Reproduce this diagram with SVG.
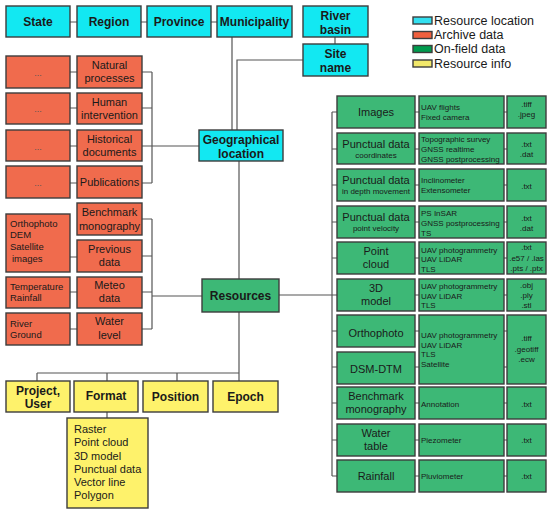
<svg xmlns="http://www.w3.org/2000/svg" width="550" height="515" viewBox="0 0 550 515">
<style>
text{font-family:"Liberation Sans",Arial,sans-serif;fill:#1a1a1a}
.box{stroke:#3c3c3c;stroke-width:1.4}
.loc{fill:#12e8f2}
.arc{fill:#f06b4d}
.fld{fill:#3db876}
.inf{fill:#fef26b}
.b12{font-size:12px;font-weight:bold;text-anchor:middle}
.r11{font-size:11px;text-anchor:middle}
.l11{font-size:11px}
.s8{font-size:8px}
.s8m{font-size:8px;text-anchor:middle}
.l9{font-size:9.5px}
.dots{font-size:9px;text-anchor:middle;fill:#555}
.leg{font-size:12.5px}
.con{fill:none;stroke:#555;stroke-width:1.2}
</style>
<rect width="550" height="515" fill="#fff"/>

<g id="connectors" class="con">
<!-- top row -->
<path d="M70 22H77M141 22H147M211 22H217M335 37V44"/>
<!-- to geographical location -->
<path d="M232 37V130M237 130V60H303"/>
<path d="M70 72H77M70 108H77M70 146H77M70 183H77"/>
<path d="M142 72H152M142 108H152M142 146H199M142 183H152M152 72V183"/>
<!-- geo to resources -->
<path d="M239 161V279"/>
<!-- lower archive -->
<path d="M70 257H77M70 292H77M70 329H77"/>
<path d="M142 219H152M142 256H152M142 292H152M142 329H152M152 219V329M152 296H202"/>
<!-- resources to green trunk -->
<path d="M279 295H332M332 112V476"/>
<path d="M332 112H337M332 149H337M332 185H337M332 222H337M332 258H337M332 295H337M332 331H337M332 367H337M332 403H337M332 440H337M332 476H337"/>
<path d="M415 112H419M415 149H419M415 185H419M415 222H419M415 258H419M415 295H419M415 331H419M415 367H419M415 403H419M415 440H419M415 476H419"/>
<path d="M504 112H507M504 149H507M504 185H507M504 222H507M504 258H507M504 295H507M504 331H507M504 367H507M504 403H507M504 440H507M504 476H507"/>
<!-- resources to info -->
<path d="M239 312V381M37 373H239M37 373V381M107 373V381M177 373V381M107 412V418"/>
</g>

<!-- Resource location -->
<g id="state"><rect class="box loc" x="6" y="6" width="64" height="31"/><text class="b12" x="38" y="26">State</text></g>
<g id="region"><rect class="box loc" x="77" y="6" width="64" height="31"/><text class="b12" x="109" y="26">Region</text></g>
<g id="province"><rect class="box loc" x="147" y="6" width="64" height="31"/><text class="b12" x="179" y="26">Province</text></g>
<g id="municipality"><rect class="box loc" x="217" y="6" width="75" height="31"/><text class="b12" x="254.5" y="26">Municipality</text></g>
<g id="river-basin"><rect class="box loc" x="303" y="6" width="65" height="31"/><text class="b12" x="335.5" y="19.5">River</text><text class="b12" x="335.5" y="33.5">basin</text></g>
<g id="site-name"><rect class="box loc" x="303" y="44" width="65" height="32"/><text class="b12" x="335.5" y="57.5">Site</text><text class="b12" x="335.5" y="72">name</text></g>
<g id="geographical-location"><rect class="box loc" x="199" y="130" width="84" height="31"/><text class="b12" x="241" y="143.5">Geographical</text><text class="b12" x="241" y="157.5">location</text></g>

<!-- Legend -->
<g id="legend">
<rect class="box" x="413" y="17" width="19" height="7" fill="#33e0f0" stroke-width="1"/>
<rect class="box" x="413" y="31.5" width="19" height="7" fill="#f0603e" stroke-width="1"/>
<rect class="box" x="413" y="45.5" width="19" height="7" fill="#009b4e" stroke-width="1"/>
<rect class="box" x="413" y="60" width="19" height="7" fill="#f2e86a" stroke-width="1"/>
<text class="leg" x="434" y="25">Resource location</text>
<text class="leg" x="434" y="39">Archive data</text>
<text class="leg" x="434" y="53">On-field data</text>
<text class="leg" x="434" y="67.5">Resource info</text>
</g>

<!-- Archive data -->
<g id="arc-dots-1"><rect class="box arc" x="6" y="56" width="64" height="32"/><text class="dots" x="38" y="76">...</text></g>
<g id="natural-processes"><rect class="box arc" x="77" y="56" width="65" height="32"/><text class="r11" x="109.5" y="69">Natural</text><text class="r11" x="109.5" y="82">processes</text></g>
<g id="arc-dots-2"><rect class="box arc" x="6" y="93" width="64" height="31"/><text class="dots" x="38" y="112">...</text></g>
<g id="human-intervention"><rect class="box arc" x="77" y="93" width="65" height="31"/><text class="r11" x="109.5" y="105.5">Human</text><text class="r11" x="109.5" y="118.5">intervention</text></g>
<g id="arc-dots-3"><rect class="box arc" x="6" y="130" width="64" height="31"/><text class="dots" x="38" y="150">...</text></g>
<g id="historical-documents"><rect class="box arc" x="77" y="130" width="65" height="31"/><text class="r11" x="109.5" y="143">Historical</text><text class="r11" x="109.5" y="156">documents</text></g>
<g id="arc-dots-4"><rect class="box arc" x="6" y="166" width="64" height="32"/><text class="dots" x="38" y="186">...</text></g>
<g id="publications"><rect class="box arc" x="77" y="166" width="65" height="32"/><text class="r11" x="109.5" y="186">Publications</text></g>
<g id="benchmark-monography-archive"><rect class="box arc" x="77" y="203" width="65" height="32"/><text class="r11" x="109.5" y="216">Benchmark</text><text class="r11" x="109.5" y="229.5">monography</text></g>
<g id="orthophoto-dem"><rect class="box arc" x="6" y="214" width="64" height="58"/><text class="l9" x="10" y="226.5">Orthophoto</text><text class="l9" x="10" y="238">DEM</text><text class="l9" x="10" y="250">Satellite</text><text class="l9" x="12" y="261.5">images</text></g>
<g id="previous-data"><rect class="box arc" x="77" y="240" width="65" height="32"/><text class="r11" x="109.5" y="253">Previous</text><text class="r11" x="109.5" y="266">data</text></g>
<g id="temperature-rainfall"><rect class="box arc" x="6" y="277" width="64" height="31"/><text class="l9" x="10" y="289.5">Temperature</text><text class="l9" x="10" y="300.5">Rainfall</text></g>
<g id="meteo-data"><rect class="box arc" x="77" y="277" width="65" height="31"/><text class="r11" x="109.5" y="288.5">Meteo</text><text class="r11" x="109.5" y="301.5">data</text></g>
<g id="river-ground"><rect class="box arc" x="6" y="313" width="64" height="32"/><text class="l9" x="10" y="326.5">River</text><text class="l9" x="10" y="338">Ground</text></g>
<g id="water-level"><rect class="box arc" x="77" y="313" width="65" height="32"/><text class="r11" x="109.5" y="325">Water</text><text class="r11" x="109.5" y="338.5">level</text></g>

<!-- Resources -->
<g id="resources"><rect class="box fld" x="202" y="279" width="77" height="33"/><text class="b12" x="240.5" y="300">Resources</text></g>

<!-- On-field data -->
<g id="images">
<rect class="box fld" x="337" y="96" width="78" height="32"/><text class="r11" x="376" y="116">Images</text>
<rect class="box fld" x="419" y="96" width="85" height="32"/><text class="s8" x="421" y="110">UAV flights</text><text class="s8" x="421" y="120">Fixed camera</text>
<rect class="box fld" x="507" y="96" width="39" height="32"/><text class="s8m" x="526.5" y="107">.tiff</text><text class="s8m" x="526.5" y="117">.jpeg</text>
</g>
<g id="punctual-coordinates">
<rect class="box fld" x="337" y="133" width="78" height="31"/><text class="r11" x="376" y="148">Punctual data</text><text class="s8m" x="376" y="158">coordinates</text>
<rect class="box fld" x="419" y="133" width="85" height="31"/><text class="s8" x="421" y="142">Topographic survey</text><text class="s8" x="421" y="152">GNSS realtime</text><text class="s8" x="421" y="162">GNSS postprocessing</text>
<rect class="box fld" x="507" y="133" width="39" height="31"/><text class="s8m" x="526.5" y="147">.txt</text><text class="s8m" x="526.5" y="157">.dat</text>
</g>
<g id="punctual-depth">
<rect class="box fld" x="337" y="169" width="78" height="32"/><text class="r11" x="376" y="184">Punctual data</text><text class="s8m" x="376" y="194">in depth movement</text>
<rect class="box fld" x="419" y="169" width="85" height="32"/><text class="s8" x="421" y="183">Inclinometer</text><text class="s8" x="421" y="192.5">Extensometer</text>
<rect class="box fld" x="507" y="169" width="39" height="32"/><text class="s8m" x="526.5" y="189">.txt</text>
</g>
<g id="punctual-velocity">
<rect class="box fld" x="337" y="206" width="78" height="32"/><text class="r11" x="376" y="221">Punctual data</text><text class="s8m" x="376" y="231">point velocity</text>
<rect class="box fld" x="419" y="206" width="85" height="32"/><text class="s8" x="421" y="216">PS InSAR</text><text class="s8" x="421" y="226">GNSS postprocessing</text><text class="s8" x="421" y="235.5">TS</text>
<rect class="box fld" x="507" y="206" width="39" height="32"/><text class="s8m" x="526.5" y="221">.txt</text><text class="s8m" x="526.5" y="231">.dat</text>
</g>
<g id="point-cloud">
<rect class="box fld" x="337" y="242" width="78" height="32"/><text class="r11" x="376" y="255">Point</text><text class="r11" x="376" y="268">cloud</text>
<rect class="box fld" x="419" y="242" width="85" height="32"/><text class="s8" x="421" y="253">UAV photogrammetry</text><text class="s8" x="421" y="262">UAV LiDAR</text><text class="s8" x="421" y="272">TLS</text>
<rect class="box fld" x="507" y="242" width="39" height="32"/><text class="s8m" x="526.5" y="250">.txt</text><text class="s8m" x="526.5" y="261">.e57 / .las</text><text class="s8m" x="526.5" y="271">.pts / .ptx</text>
</g>
<g id="model-3d">
<rect class="box fld" x="337" y="279" width="78" height="32"/><text class="r11" x="376" y="292">3D</text><text class="r11" x="376" y="305">model</text>
<rect class="box fld" x="419" y="279" width="85" height="32"/><text class="s8" x="421" y="289">UAV photogrammetry</text><text class="s8" x="421" y="299">UAV LiDAR</text><text class="s8" x="421" y="308">TLS</text>
<rect class="box fld" x="507" y="279" width="39" height="32"/><text class="s8m" x="526.5" y="288">.obj</text><text class="s8m" x="526.5" y="298">.ply</text><text class="s8m" x="526.5" y="308">.stl</text>
</g>
<g id="orthophoto"><rect class="box fld" x="337" y="315" width="78" height="32"/><text class="r11" x="376" y="337">Orthophoto</text></g>
<g id="dsm-dtm"><rect class="box fld" x="337" y="352" width="78" height="32"/><text class="r11" x="376" y="373">DSM-DTM</text></g>
<g id="ortho-dsm-sources">
<rect class="box fld" x="419" y="315" width="85" height="69"/><text class="s8" x="421" y="338">UAV photogrammetry</text><text class="s8" x="421" y="347.5">UAV LiDAR</text><text class="s8" x="421" y="357">TLS</text><text class="s8" x="421" y="367">Satellite</text>
<rect class="box fld" x="507" y="315" width="39" height="69"/><text class="s8m" x="526.5" y="341">.tiff</text><text class="s8m" x="526.5" y="352">.geotiff</text><text class="s8m" x="526.5" y="362">.ecw</text>
</g>
<g id="benchmark-monography">
<rect class="box fld" x="337" y="387" width="78" height="32"/><text class="r11" x="376" y="400">Benchmark</text><text class="r11" x="376" y="413">monography</text>
<rect class="box fld" x="419" y="387" width="85" height="32"/><text class="s8" x="421" y="407">Annotation</text>
<rect class="box fld" x="507" y="387" width="39" height="32"/><text class="s8m" x="526.5" y="407">.txt</text>
</g>
<g id="water-table">
<rect class="box fld" x="337" y="424" width="78" height="32"/><text class="r11" x="376" y="437">Water</text><text class="r11" x="376" y="450">table</text>
<rect class="box fld" x="419" y="424" width="85" height="32"/><text class="s8" x="421" y="443">Piezometer</text>
<rect class="box fld" x="507" y="424" width="39" height="32"/><text class="s8m" x="526.5" y="443">.txt</text>
</g>
<g id="rainfall">
<rect class="box fld" x="337" y="460" width="78" height="32"/><text class="r11" x="376" y="480">Rainfall</text>
<rect class="box fld" x="419" y="460" width="85" height="32"/><text class="s8" x="421" y="479">Pluviometer</text>
<rect class="box fld" x="507" y="460" width="39" height="32"/><text class="s8m" x="526.5" y="479">.txt</text>
</g>

<!-- Resource info -->
<g id="project-user"><rect class="box inf" x="6" y="381" width="64" height="31"/><text class="b12" x="38" y="395">Project,</text><text class="b12" x="38" y="408">User</text></g>
<g id="format"><rect class="box inf" x="74" y="381" width="64" height="31"/><text class="b12" x="106" y="400">Format</text></g>
<g id="position"><rect class="box inf" x="143" y="381" width="65" height="31"/><text class="b12" x="175.5" y="401">Position</text></g>
<g id="epoch"><rect class="box inf" x="213" y="381" width="65" height="31"/><text class="b12" x="245.5" y="401">Epoch</text></g>
<g id="format-list"><rect class="box inf" x="67" y="418" width="81" height="90"/>
<text class="l11" x="74" y="433">Raster</text><text class="l11" x="74" y="446">Point cloud</text><text class="l11" x="74" y="459.5">3D model</text><text class="l11" x="74" y="472.5">Punctual data</text><text class="l11" x="74" y="486">Vector line</text><text class="l11" x="74" y="499">Polygon</text>
</g>
</svg>
